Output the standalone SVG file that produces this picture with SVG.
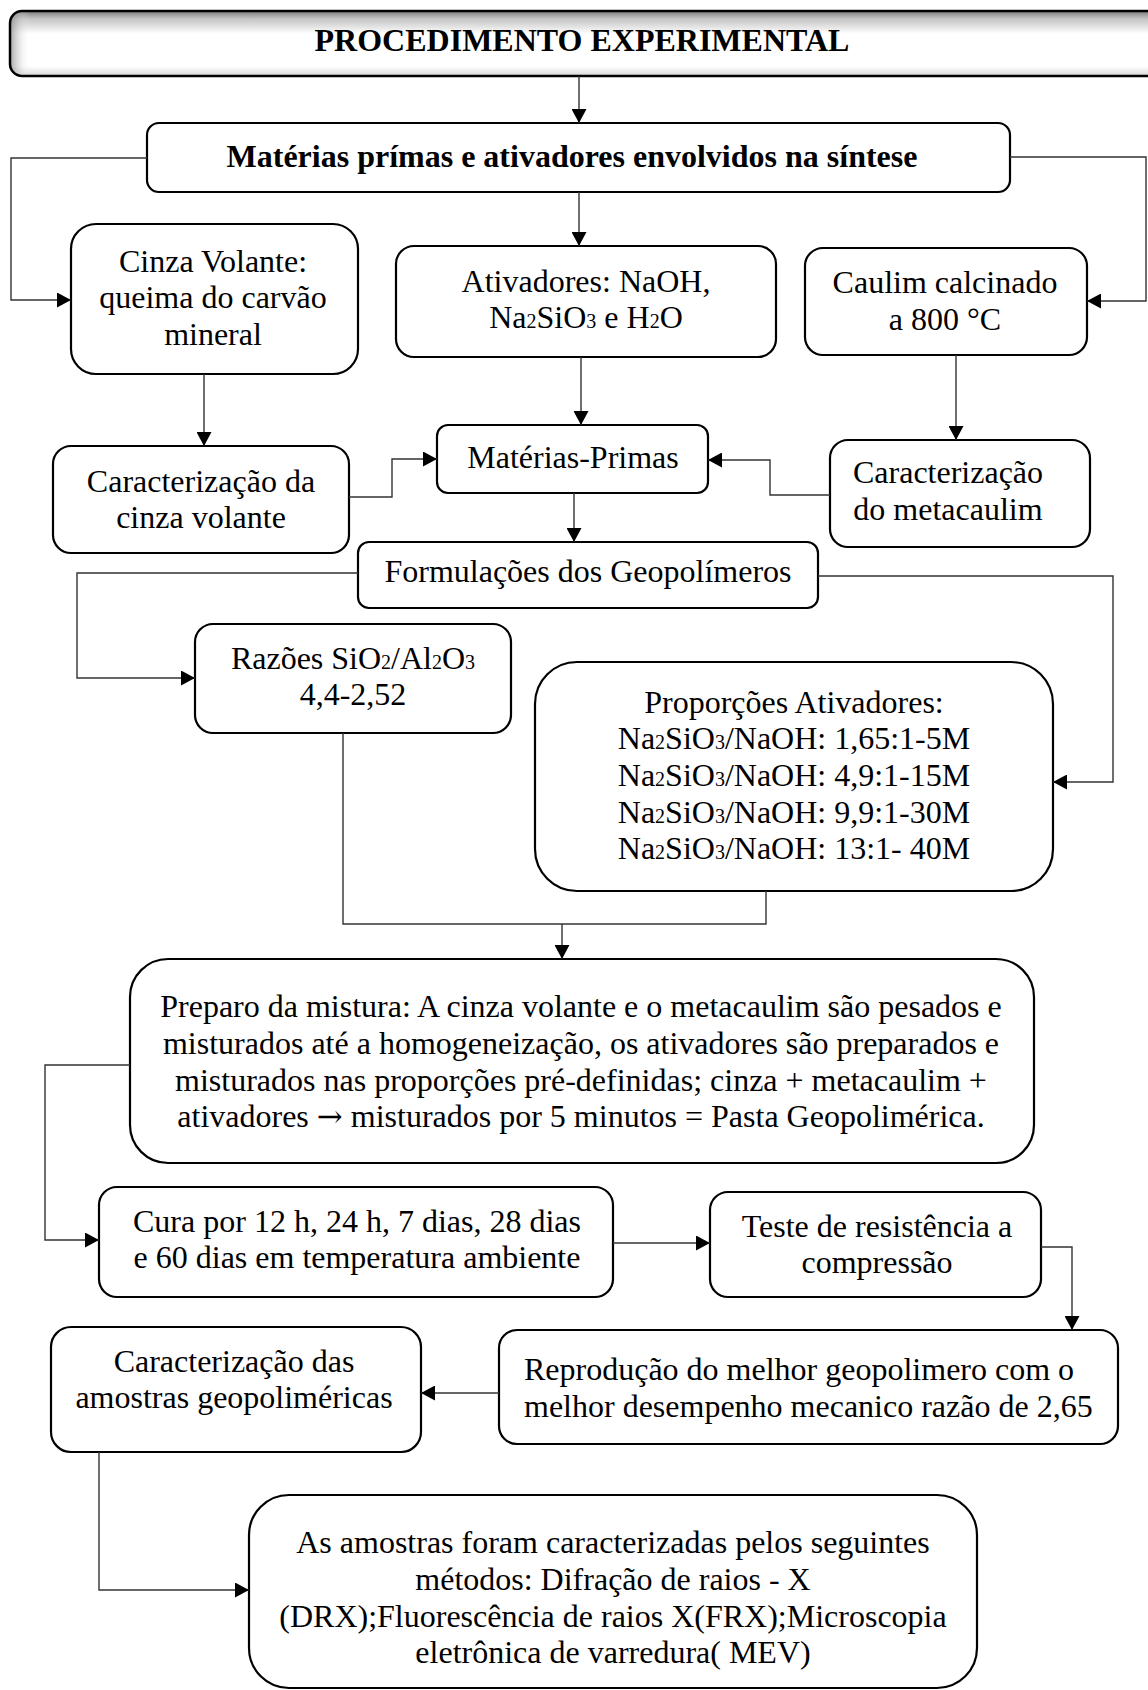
<svg xmlns="http://www.w3.org/2000/svg" width="1148" height="1690" viewBox="0 0 1148 1690">
<style>
.box{fill:#fff;stroke:#000;stroke-width:2.2}
.con{fill:none;stroke:#333;stroke-width:1.4}
.arr{marker-end:url(#ah)}
text{font-family:"Liberation Serif","Times New Roman",serif;font-size:32px;fill:#000;text-anchor:middle}
.b{font-weight:bold}
.s{font-size:20px}
.l{text-anchor:start}
.ar{font-family:"DejaVu Serif","Noto Sans",serif;font-size:31px}
</style>
<defs>
<marker id="ah" markerUnits="userSpaceOnUse" markerWidth="15" markerHeight="15" refX="14" refY="7.5" orient="auto">
<path d="M0,0 L14,7.5 L0,15 z" fill="#000"/>
</marker>
<linearGradient id="gTop" x1="0" y1="11" x2="0" y2="76" gradientUnits="userSpaceOnUse">
<stop offset="0" stop-color="#7a7a7a"/>
<stop offset="0.12" stop-color="#c4c4c4"/>
<stop offset="0.35" stop-color="#ffffff"/>
<stop offset="0.85" stop-color="#ffffff"/>
<stop offset="1" stop-color="#d8d8d8"/>
</linearGradient>
<linearGradient id="gLeft" x1="10" y1="0" x2="30" y2="0" gradientUnits="userSpaceOnUse">
<stop offset="0" stop-color="#808080" stop-opacity="0.7"/>
<stop offset="1" stop-color="#ffffff" stop-opacity="0"/>
</linearGradient>
</defs>

<g id="title">
<rect x="10" y="11" width="1150" height="65" rx="12" fill="url(#gTop)"/>
<rect x="10" y="11" width="1150" height="65" rx="12" fill="url(#gLeft)"/>
<rect x="10" y="11" width="1150" height="65" rx="12" fill="none" stroke="#000" stroke-width="2.5"/>
<text class="b" x="582" y="50.5">PROCEDIMENTO EXPERIMENTAL</text>
</g>

<g id="materias-ativadores">
<rect class="box" x="147" y="123" width="863" height="69" rx="12"/>
<text class="b" x="572" y="167">Matérias prímas e ativadores envolvidos na síntese</text>
</g>

<g id="cinza-volante">
<rect class="box" x="71" y="224" width="287" height="150" rx="25"/>
<text x="213" y="271.7">Cinza Volante:</text>
<text x="213" y="308.3">queima do carvão</text>
<text x="213" y="345">mineral</text>
</g>

<g id="ativadores">
<rect class="box" x="396" y="246" width="380" height="111" rx="18"/>
<text x="586" y="291.7">Ativadores: NaOH,</text>
<text x="586" y="328">Na<tspan class="s">2</tspan>SiO<tspan class="s">3</tspan> e H<tspan class="s">2</tspan>O</text>
</g>

<g id="caulim">
<rect class="box" x="805" y="248" width="282" height="107" rx="18"/>
<text x="945" y="293">Caulim calcinado</text>
<text x="945" y="330">a 800 °C</text>
</g>

<g id="caract-cinza">
<rect class="box" x="53" y="446" width="296" height="107" rx="18"/>
<text x="201" y="492">Caracterização da</text>
<text x="201" y="527.5">cinza volante</text>
</g>

<g id="materias-primas">
<rect class="box" x="437" y="425" width="271" height="68" rx="11"/>
<text x="573" y="468">Matérias-Primas</text>
</g>

<g id="caract-metacaulim">
<rect class="box" x="830" y="440" width="260" height="107" rx="18"/>
<text x="948" y="483.3">Caracterização</text>
<text x="948" y="520">do metacaulim</text>
</g>

<g id="formulacoes">
<rect class="box" x="358" y="542" width="460" height="66" rx="11"/>
<text x="588" y="581.7">Formulações dos Geopolímeros</text>
</g>

<g id="razoes">
<rect class="box" x="195" y="624" width="316" height="109" rx="18"/>
<text x="353" y="669">Razões SiO<tspan class="s">2</tspan>/Al<tspan class="s">2</tspan>O<tspan class="s">3</tspan></text>
<text x="353" y="705">4,4-2,52</text>
</g>

<g id="proporcoes">
<rect class="box" x="535" y="662" width="518" height="229" rx="42"/>
<text x="794" y="712.7">Proporções Ativadores:</text>
<text x="794" y="749.3">Na<tspan class="s">2</tspan>SiO<tspan class="s">3</tspan>/NaOH: 1,65:1-5M</text>
<text x="794" y="786">Na<tspan class="s">2</tspan>SiO<tspan class="s">3</tspan>/NaOH: 4,9:1-15M</text>
<text x="794" y="822.7">Na<tspan class="s">2</tspan>SiO<tspan class="s">3</tspan>/NaOH: 9,9:1-30M</text>
<text x="794" y="859.3">Na<tspan class="s">2</tspan>SiO<tspan class="s">3</tspan>/NaOH: 13:1- 40M</text>
</g>

<g id="preparo">
<rect class="box" x="130" y="959" width="904" height="204" rx="38"/>
<text x="581" y="1017.3">Preparo da mistura: A cinza volante e o metacaulim são pesados e</text>
<text x="581" y="1054">misturados até a homogeneização, os ativadores são preparados e</text>
<text x="581" y="1090.7">misturados nas proporções pré-definidas; cinza + metacaulim +</text>
<text x="581" y="1127.3">ativadores <tspan class="ar">→</tspan> misturados por 5 minutos = Pasta Geopolimérica.</text>
</g>

<g id="cura">
<rect class="box" x="99" y="1187" width="514" height="110" rx="18"/>
<text x="357" y="1231.7">Cura por 12 h, 24 h, 7 dias, 28 dias</text>
<text x="357" y="1268.3">e 60 dias em temperatura ambiente</text>
</g>

<g id="teste">
<rect class="box" x="710" y="1192" width="331" height="105" rx="18"/>
<text x="877" y="1236.7">Teste de resistência a</text>
<text x="877" y="1273.3">compressão</text>
</g>

<g id="reproducao">
<rect class="box" x="499" y="1330" width="619" height="114" rx="18"/>
<text class="l" x="524" y="1380">Reprodução do melhor geopolimero com o</text>
<text class="l" x="524" y="1416.7">melhor desempenho mecanico razão de 2,65</text>
</g>

<g id="caract-amostras">
<rect class="box" x="51" y="1327" width="370" height="125" rx="20"/>
<text x="234" y="1371.7">Caracterização das</text>
<text x="234" y="1408.3">amostras geopoliméricas</text>
</g>

<g id="metodos">
<rect class="box" x="249" y="1495" width="728" height="193" rx="40"/>
<text x="613" y="1553.3">As amostras foram caracterizadas pelos seguintes</text>
<text x="613" y="1590">métodos: Difração de raios - X</text>
<text x="613" y="1626.7">(DRX);Fluorescência de raios X(FRX);Microscopia</text>
<text x="613" y="1663.3">eletrônica de varredura( MEV)</text>
</g>

<g id="connectors">
<path class="con arr" d="M579,76 V123"/>
<path class="con arr" d="M147,158 H11 V300 H71"/>
<path class="con arr" d="M579,192 V246"/>
<path class="con arr" d="M1010,157 H1146 V301 H1087"/>
<path class="con arr" d="M204,374 V446"/>
<path class="con arr" d="M581,357 V425"/>
<path class="con arr" d="M956,355 V440"/>
<path class="con arr" d="M349,497 H392 V459 H437"/>
<path class="con arr" d="M830,495 H770 V460 H708"/>
<path class="con arr" d="M574,493 V542"/>
<path class="con arr" d="M358,573 H77 V678 H195"/>
<path class="con arr" d="M818,576 H1113 V782 H1053"/>
<path class="con" d="M343,733 V924 H766 V891"/>
<path class="con arr" d="M562,924 V959"/>
<path class="con arr" d="M130,1065 H45 V1240 H99"/>
<path class="con arr" d="M613,1243 H710"/>
<path class="con arr" d="M1041,1247 H1072 V1330"/>
<path class="con arr" d="M499,1393 H421"/>
<path class="con arr" d="M99,1452 V1590 H249"/>
</g>
</svg>
